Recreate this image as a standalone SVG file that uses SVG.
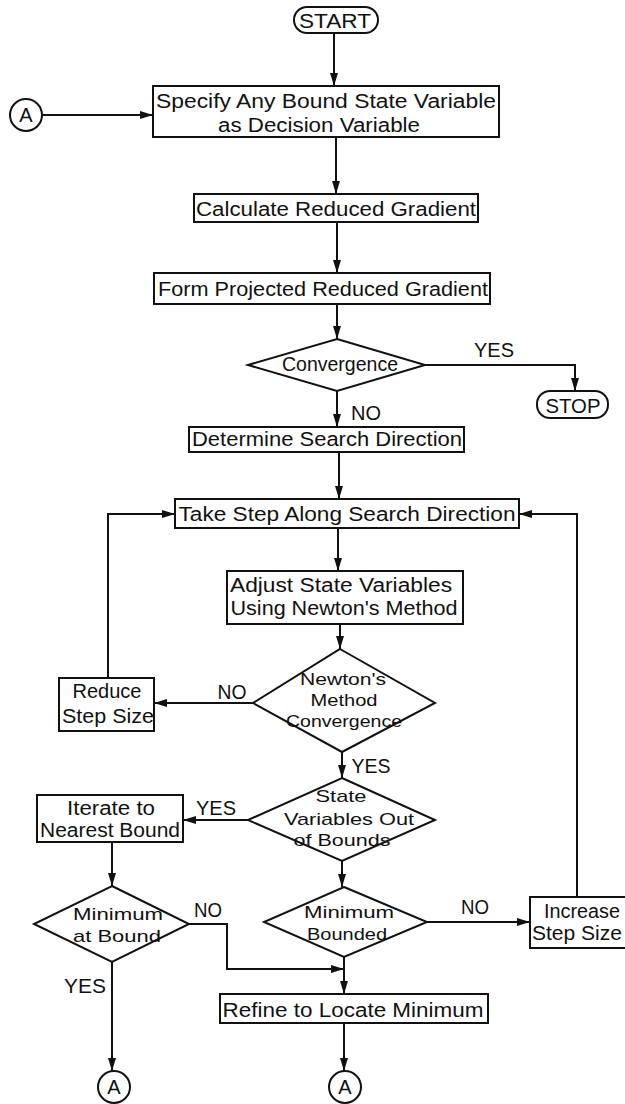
<svg xmlns="http://www.w3.org/2000/svg" width="625" height="1104" viewBox="0 0 625 1104">
<style>
.s{fill:none;stroke:#111;stroke-width:2}
.n{fill:#fff;stroke:#111;stroke-width:2}
.c{fill:none;stroke:#111;stroke-width:2;marker-end:url(#ah)}
text{font-family:"Liberation Sans",Arial,sans-serif;font-size:20px;fill:#111;text-anchor:middle}
text.d{font-size:17px}
</style>
<defs>
<marker id="ah" markerUnits="userSpaceOnUse" markerWidth="14" markerHeight="10" refX="13" refY="4" orient="auto">
<path d="M0,0 L13,4 L0,8 z" fill="#111"/>
</marker>
</defs>
<rect width="625" height="1104" fill="#fff"/>
<g id="connectors">
<line class="c" x1="334" y1="33" x2="334" y2="86"/>
<line class="c" x1="43" y1="115" x2="153" y2="115"/>
<line class="c" x1="336" y1="137" x2="336" y2="194"/>
<line class="c" x1="337" y1="222" x2="337" y2="273"/>
<line class="c" x1="337" y1="304" x2="337" y2="339"/>
<polyline class="c" points="425,365 575,365 575,391"/>
<line class="c" x1="337" y1="391" x2="337" y2="427"/>
<line class="c" x1="339" y1="452" x2="339" y2="499"/>
<polyline class="c" points="108,678 108,514 175,514"/>
<polyline class="c" points="577,897 577,514 519,514"/>
<line class="c" x1="338" y1="528" x2="338" y2="571"/>
<line class="c" x1="340" y1="624" x2="340" y2="649"/>
<line class="c" x1="253" y1="703" x2="154" y2="703"/>
<line class="c" x1="342" y1="752" x2="342" y2="778"/>
<line class="c" x1="248" y1="820" x2="183" y2="820"/>
<line class="c" x1="112" y1="842" x2="112" y2="886"/>
<polyline class="c" points="189,924 227,924 227,969 344,969"/>
<line class="c" x1="112" y1="962" x2="112" y2="1071"/>
<line class="c" x1="342" y1="861" x2="342" y2="887"/>
<line class="c" x1="427" y1="922" x2="530" y2="922"/>
<line class="c" x1="344" y1="957" x2="344" y2="994"/>
<line class="c" x1="344" y1="1023" x2="344" y2="1071"/>
</g>
<g id="labels">
<text x="494" y="357" textLength="40" lengthAdjust="spacingAndGlyphs">YES</text>
<text x="366" y="420" textLength="30" lengthAdjust="spacingAndGlyphs">NO</text>
<text x="232" y="699" textLength="29" lengthAdjust="spacingAndGlyphs">NO</text>
<text x="371" y="773" textLength="39" lengthAdjust="spacingAndGlyphs">YES</text>
<text x="216" y="815" textLength="40" lengthAdjust="spacingAndGlyphs">YES</text>
<text x="208" y="917" textLength="28" lengthAdjust="spacingAndGlyphs">NO</text>
<text x="475" y="914" textLength="28" lengthAdjust="spacingAndGlyphs">NO</text>
<text x="85" y="993" textLength="42" lengthAdjust="spacingAndGlyphs">YES</text>
</g>
<g id="start">
<rect class="n" x="294" y="7" width="84" height="26" rx="13"/>
<text x="335" y="28" textLength="72" lengthAdjust="spacingAndGlyphs">START</text>
</g>
<g id="connA-top">
<circle class="n" cx="26" cy="115" r="16"/>
<text x="26" y="122">A</text>
</g>
<g id="specify">
<rect class="n" x="153" y="86" width="346" height="51"/>
<text x="326" y="108" textLength="340" lengthAdjust="spacingAndGlyphs">Specify Any Bound State Variable</text>
<text x="319" y="132" textLength="202" lengthAdjust="spacingAndGlyphs">as Decision Variable</text>
</g>
<g id="calculate">
<rect class="n" x="194" y="194" width="284" height="28"/>
<text x="336" y="216" textLength="280" lengthAdjust="spacingAndGlyphs">Calculate Reduced Gradient</text>
</g>
<g id="form">
<rect class="n" x="154" y="273" width="336" height="31"/>
<text x="323" y="296" textLength="330" lengthAdjust="spacingAndGlyphs">Form Projected Reduced Gradient</text>
</g>
<g id="convergence">
<polygon class="n" points="337,339 425,365 337,391 248,365"/>
<text x="340" y="371" textLength="116" lengthAdjust="spacingAndGlyphs">Convergence</text>
</g>
<g id="stop">
<rect class="n" x="537" y="391" width="71" height="27" rx="13"/>
<text x="573" y="413" textLength="55" lengthAdjust="spacingAndGlyphs">STOP</text>
</g>
<g id="determine">
<rect class="n" x="189" y="427" width="275" height="25"/>
<text x="327" y="446" textLength="270" lengthAdjust="spacingAndGlyphs">Determine Search Direction</text>
</g>
<g id="takestep">
<rect class="n" x="175" y="499" width="344" height="29"/>
<text x="347" y="521" textLength="337" lengthAdjust="spacingAndGlyphs">Take Step Along Search Direction</text>
</g>
<g id="adjust">
<rect class="n" x="227" y="571" width="236" height="53"/>
<text x="341" y="592" textLength="222" lengthAdjust="spacingAndGlyphs">Adjust State Variables</text>
<text x="344" y="615" textLength="227" lengthAdjust="spacingAndGlyphs">Using Newton's Method</text>
</g>
<g id="newton">
<polygon class="n" points="340,649 435,703 342,752 253,703"/>
<text class="d" x="343" y="685" textLength="86" lengthAdjust="spacingAndGlyphs">Newton's</text>
<text class="d" x="344" y="706" textLength="67" lengthAdjust="spacingAndGlyphs">Method</text>
<text class="d" x="344" y="727" textLength="116" lengthAdjust="spacingAndGlyphs">Convergence</text>
</g>
<g id="reduce">
<rect class="n" x="59" y="678" width="95" height="53"/>
<text x="107" y="698" textLength="69" lengthAdjust="spacingAndGlyphs">Reduce</text>
<text x="108" y="723" textLength="92" lengthAdjust="spacingAndGlyphs">Step Size</text>
</g>
<g id="outofbounds">
<polygon class="n" points="342,778 435,820 342,861 248,820"/>
<text class="d" x="341" y="802" textLength="51" lengthAdjust="spacingAndGlyphs">State</text>
<text class="d" x="349" y="825" textLength="130" lengthAdjust="spacingAndGlyphs">Variables Out</text>
<text class="d" x="342" y="846" textLength="97" lengthAdjust="spacingAndGlyphs">of Bounds</text>
</g>
<g id="iterate">
<rect class="n" x="37" y="795" width="146" height="47"/>
<text x="111" y="815" textLength="88" lengthAdjust="spacingAndGlyphs">Iterate to</text>
<text x="110" y="837" textLength="140" lengthAdjust="spacingAndGlyphs">Nearest Bound</text>
</g>
<g id="minatbound">
<polygon class="n" points="112,886 189,924 112,962 34,924"/>
<text class="d" x="118" y="920" textLength="90" lengthAdjust="spacingAndGlyphs">Minimum</text>
<text class="d" x="117" y="942" textLength="88" lengthAdjust="spacingAndGlyphs">at Bound</text>
</g>
<g id="minbounded">
<polygon class="n" points="344,887 427,922 344,957 264,922"/>
<text class="d" x="349" y="918" textLength="90" lengthAdjust="spacingAndGlyphs">Minimum</text>
<text class="d" x="347" y="940" textLength="80" lengthAdjust="spacingAndGlyphs">Bounded</text>
</g>
<g id="increase">
<rect class="n" x="530" y="897" width="100" height="51"/>
<text x="582" y="918" textLength="76" lengthAdjust="spacingAndGlyphs">Increase</text>
<text x="577" y="940" textLength="90" lengthAdjust="spacingAndGlyphs">Step Size</text>
</g>
<g id="refine">
<rect class="n" x="220" y="994" width="268" height="29"/>
<text x="353" y="1017" textLength="261" lengthAdjust="spacingAndGlyphs">Refine to Locate Minimum</text>
</g>
<g id="connA-left">
<circle class="n" cx="114" cy="1087" r="16"/>
<text x="114" y="1094">A</text>
</g>
<g id="connA-right">
<circle class="n" cx="345" cy="1087" r="16"/>
<text x="345" y="1094">A</text>
</g>
</svg>
